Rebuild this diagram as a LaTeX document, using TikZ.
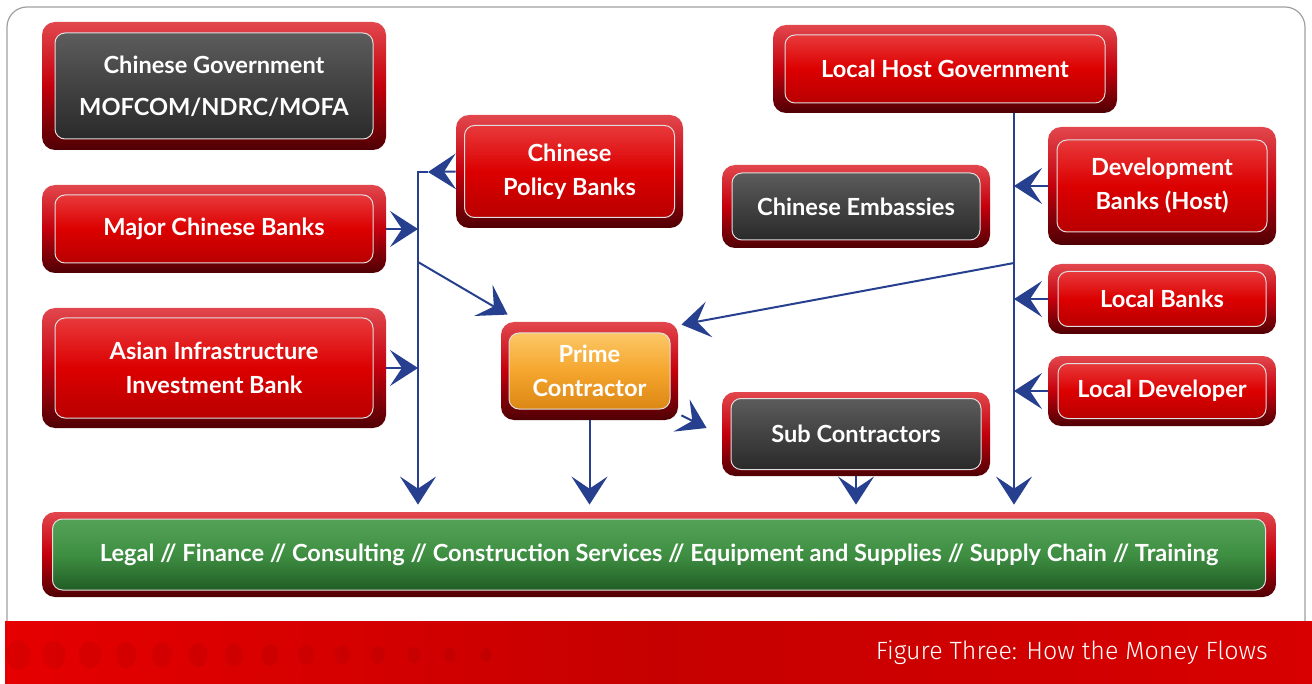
\documentclass[tikz,border=0pt]{standalone}
\usepackage{fontspec}
\setmainfont{Lato}
\newfontfamily\capfont{Fira Sans Light}
\usetikzlibrary{arrows.meta}

\definecolor{flowblue}{HTML}{26408F}
\definecolor{frameTop}{HTML}{E2474D}
\definecolor{frameMid}{HTML}{C4000C}
\definecolor{frameBot}{HTML}{4E0004}
\definecolor{redTop}{HTML}{E8393B}
\definecolor{redMid}{HTML}{DC0000}
\definecolor{redBot}{HTML}{B80000}
\definecolor{grayTop}{HTML}{5C5C5C}
\definecolor{grayMid}{HTML}{424242}
\definecolor{grayBot}{HTML}{2A2A2A}
\definecolor{orangeTop}{HTML}{FBC766}
\definecolor{orangeMid}{HTML}{F5A62E}
\definecolor{orangeBot}{HTML}{DB8714}
\definecolor{greenTop}{HTML}{54A258}
\definecolor{greenMid}{HTML}{3F8F43}
\definecolor{greenBot}{HTML}{215D24}
\definecolor{bannerL}{HTML}{E60000}
\definecolor{bannerM}{HTML}{C60000}
\definecolor{bannerR}{HTML}{D80000}

\tikzset{
  boxframe/.style={rounded corners=6.5pt, top color=frameTop, bottom color=frameBot, middle color=frameMid, inner sep=0pt},
  panel/.style={rounded corners=5pt, draw=white!75!gray, line width=0.5pt, text=white, align=center, inner sep=0pt,
    font=\bfseries\fontsize{11.8}{17}\selectfont},
  redpanel/.style={panel, top color=redTop, bottom color=redBot, middle color=redMid},
  graypanel/.style={panel, top color=grayTop, bottom color=grayBot, middle color=grayMid},
  orangepanel/.style={panel, top color=orangeTop, bottom color=orangeBot, middle color=orangeMid},
  greenpanel/.style={panel, top color=greenTop, bottom color=greenBot, middle color=greenMid},
  flow/.style={draw=flowblue, line width=1pt, -{Stealth[length=14pt, width=18pt, inset=6pt]}},
}

\begin{document}
\begin{tikzpicture}[x=0.5pt, y=-0.5pt]
  \useasboundingbox (0,0) rectangle (1312,684);
  % page frame and banner
  \draw[gray!75, line width=0.6pt, rounded corners=10pt] (7,7) rectangle (1305,678);
  \shade[left color=bannerL, right color=bannerR, middle color=bannerM] (5,621) rectangle (1312,684);
  \foreach \i in {0,...,13}
    \fill[black, opacity=0.05] (18+36*\i,655) ellipse ({12-0.5*\i} and {15-0.6*\i});
  \node[anchor=east, inner sep=0pt, text=white, font=\capfont\fontsize{12.5}{14}\selectfont] (caption) at (1268,653) {Figure Three: How the Money Flows};

  % left column
  \node[boxframe, minimum width=172pt, minimum height=64pt] (govt) at (214,86) {};
  \node[graypanel, minimum width=159pt, minimum height=53pt] (govt-in) at (govt) {Chinese Government\\[4pt]MOFCOM/NDRC/MOFA};
  \node[boxframe, minimum width=172pt, minimum height=44pt] (mcb) at (214,229) {};
  \node[redpanel, minimum width=159pt, minimum height=34pt] (mcb-in) at (mcb) {Major Chinese Banks};
  \node[boxframe, minimum width=172pt, minimum height=60pt] (aiib) at (214,368) {};
  \node[redpanel, minimum width=159pt, minimum height=50pt] (aiib-in) at (aiib) {Asian Infrastructure\\Investment Bank};

  % middle
  \node[boxframe, minimum width=113.5pt, minimum height=56.5pt] (policy) at (569.5,171.5) {};
  \node[redpanel, minimum width=105pt, minimum height=46pt] (policy-in) at (policy) {Chinese\\Policy Banks};
  \node[boxframe, minimum width=88.5pt, minimum height=49pt] (prime) at (589.5,371) {};
  \node[orangepanel, minimum width=80.5pt, minimum height=38pt] (prime-in) at (prime) {Prime\\Contractor};
  \node[boxframe, minimum width=172pt, minimum height=44pt] (host) at (945,69) {};
  \node[redpanel, minimum width=160pt, minimum height=34pt] (host-in) at (host) {Local Host Government};
  \node[boxframe, minimum width=134pt, minimum height=41.5pt] (emb) at (856,206.5) {};
  \node[graypanel, minimum width=124pt, minimum height=33.5pt] (emb-in) at (emb) {Chinese Embassies};
  \node[boxframe, minimum width=134pt, minimum height=42pt] (sub) at (856,434) {};
  \node[graypanel, minimum width=125pt, minimum height=35.5pt] (sub-in) at (sub) {Sub Contractors};

  % right column
  \node[boxframe, minimum width=114pt, minimum height=59pt] (dev) at (1162,186) {};
  \node[redpanel, minimum width=105pt, minimum height=46pt] (dev-in) at (dev) {Development\\Banks (Host)};
  \node[boxframe, minimum width=114pt, minimum height=35pt] (lbank) at (1162,299) {};
  \node[redpanel, minimum width=104pt, minimum height=27.5pt] (lbank-in) at (lbank) {Local Banks};
  \node[boxframe, minimum width=114pt, minimum height=35pt] (ldev) at (1162,391) {};
  \node[redpanel, minimum width=104pt, minimum height=27.5pt] (ldev-in) at (ldev) {Local Developer};

  % services bar
  \node[boxframe, minimum width=617pt, minimum height=42.5pt] (svc) at (659,554.5) {};
  \node[greenpanel, minimum width=606.5pt, minimum height=35.5pt] (svc-in) at (svc) {Legal // Finance // Consulting // Construction Services // Equipment and Supplies // Supply Chain // Training};

  % money flows
  \coordinate (ltop) at (418,172);
  \coordinate (lfork) at (418,262);
  \coordinate (rfork) at (1014,263);
  \draw[flow] (policy.west) -- ([xshift=5pt]ltop);
  \draw[flow] ([xshift=5pt]ltop) -- (ltop) -- ([yshift=3.5pt]ltop |- svc.north);
  \draw[flow] (mcb.east) -- (mcb.east -| ltop);
  \draw[flow] (aiib.east) -- (aiib.east -| ltop);
  \draw[flow] (lfork) -- ([shift={(3.5pt,3.5pt)}]prime.north west);
  \draw[flow] (rfork |- host.south) -- ([yshift=3.5pt]rfork |- svc.north);
  \draw[flow] (rfork) -- ([shift={(1.5pt,-1.5pt)}]prime.north east);
  \draw[flow] (dev.west) -- (dev.west -| rfork);
  \draw[flow] (lbank.west) -- (lbank.west -| rfork);
  \draw[flow] (ldev.west) -- (ldev.west -| rfork);
  \draw[flow] (prime.south) -- ([yshift=3.5pt]prime.south |- svc.north);
  \draw[flow] ([shift={(1.5pt,2.5pt)}]prime.south east) -- ([shift={(-7.5pt,3pt)}]sub.west);
  \draw[flow] (sub.south) -- ([yshift=3.5pt]sub.south |- svc.north);
\end{tikzpicture}
\end{document}
